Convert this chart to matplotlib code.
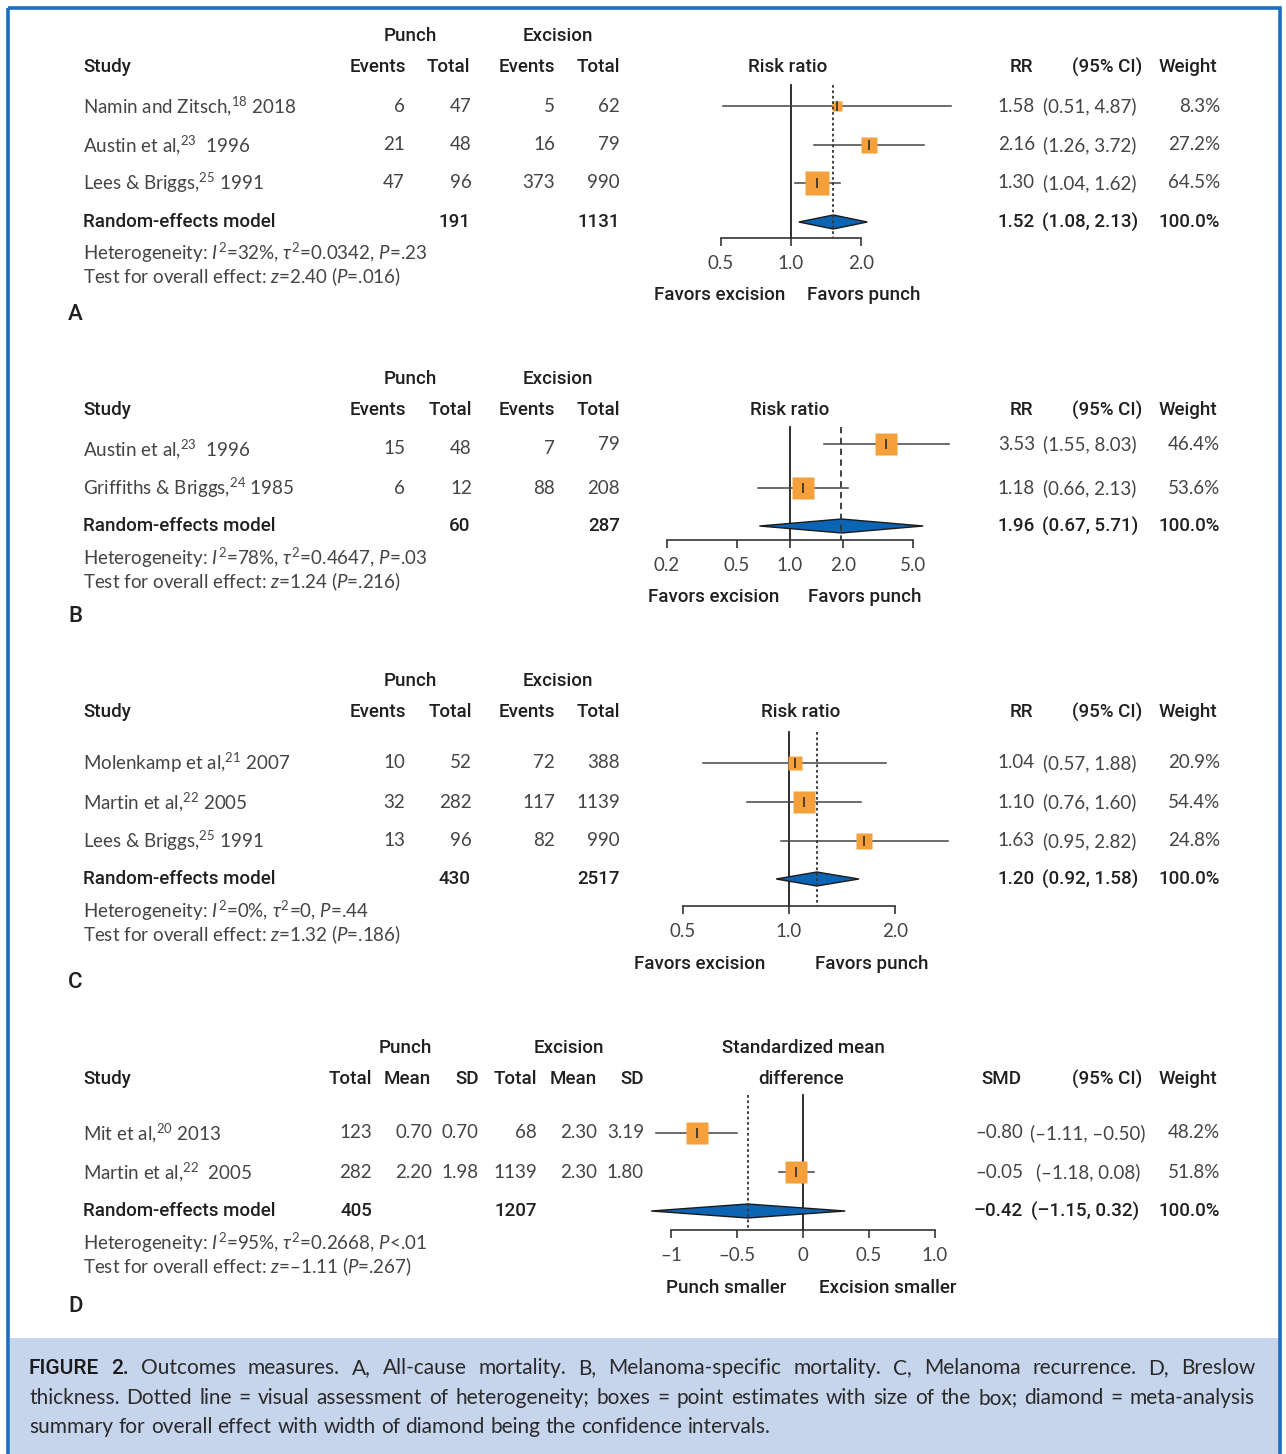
import matplotlib
matplotlib.use("Agg")
import matplotlib.pyplot as plt
from matplotlib.patches import Polygon, Rectangle
from matplotlib.ticker import NullLocator
import numpy as np

plt.rcParams['mathtext.fontset'] = 'custom'
plt.rcParams['mathtext.rm'] = 'Lato'
plt.rcParams['mathtext.it'] = 'Lato:italic'
plt.rcParams['mathtext.bf'] = 'Lato:bold'
plt.rcParams['mathtext.fallback'] = 'stixsans'

# ---------------- DATA ----------------
# Panel A: All-cause mortality
studies_A = ["Namin and Zitsch,$^{18}$ 2018", "Austin et al,$^{23}$  1996", "Lees & Briggs,$^{25}$ 1991"]
ev_punch_A = [6, 21, 47]
tot_punch_A = [47, 48, 96]
ev_exc_A = [5, 16, 373]
tot_exc_A = [62, 79, 990]
rr_A = [1.58, 2.16, 1.30]
lo_A = [0.51, 1.26, 1.04]
hi_A = [4.87, 3.72, 1.62]
weight_A = [8.3, 27.2, 64.5]
pooled_A = [1.52, 1.08, 2.13]
totals_A = [191, 1131]
het_A = r"Heterogeneity: $I^2$=32%, $\tau^2$=0.0342, $P$=.23"
test_A = r"Test for overall effect: $z$=2.40 ($P$=.016)"
ticks_A = [0.5, 1.0, 2.0]
ticklabels_A = ["0.5", "1.0", "2.0"]

# Panel B: Melanoma-specific mortality
studies_B = ["Austin et al,$^{23}$  1996", "Griffiths & Briggs,$^{24}$ 1985"]
ev_punch_B = [15, 6]
tot_punch_B = [48, 12]
ev_exc_B = [7, 88]
tot_exc_B = [79, 208]
rr_B = [3.53, 1.18]
lo_B = [1.55, 0.66]
hi_B = [8.03, 2.13]
weight_B = [46.4, 53.6]
pooled_B = [1.96, 0.67, 5.71]
totals_B = [60, 287]
het_B = r"Heterogeneity: $I^2$=78%, $\tau^2$=0.4647, $P$=.03"
test_B = r"Test for overall effect: $z$=1.24 ($P$=.216)"
ticks_B = [0.2, 0.5, 1.0, 2.0, 5.0]
ticklabels_B = ["0.2", "0.5", "1.0", "2.0", "5.0"]

# Panel C: Melanoma recurrence
studies_C = ["Molenkamp et al,$^{21}$ 2007", "Martin et al,$^{22}$ 2005", "Lees & Briggs,$^{25}$ 1991"]
ev_punch_C = [10, 32, 13]
tot_punch_C = [52, 282, 96]
ev_exc_C = [72, 117, 82]
tot_exc_C = [388, 1139, 990]
rr_C = [1.04, 1.10, 1.63]
lo_C = [0.57, 0.76, 0.95]
hi_C = [1.88, 1.60, 2.82]
weight_C = [20.9, 54.4, 24.8]
pooled_C = [1.20, 0.92, 1.58]
totals_C = [430, 2517]
het_C = r"Heterogeneity: $I^2$=0%, $\tau^2$=0, $P$=.44"
test_C = r"Test for overall effect: $z$=1.32 ($P$=.186)"
ticks_C = [0.5, 1.0, 2.0]
ticklabels_C = ["0.5", "1.0", "2.0"]

# Panel D: Breslow thickness
studies_D = ["Mit et al,$^{20}$ 2013", "Martin et al,$^{22}$  2005"]
tot_punch_D = [123, 282]
mean_punch_D = [0.70, 2.20]
sd_punch_D = [0.70, 1.98]
tot_exc_D = [68, 1139]
mean_exc_D = [2.30, 2.30]
sd_exc_D = [3.19, 1.80]
smd_D = [-0.80, -0.05]
lo_D = [-1.11, -0.18]
hi_D = [-0.50, 0.08]
ci_label_D = ["(\u20131.11, \u20130.50)", "(\u20131.18, 0.08)"]
weight_D = [48.2, 51.8]
pooled_D = [-0.42, -1.15, 0.32]
totals_D = [405, 1207]
het_D = r"Heterogeneity: $I^2$=95%, $\tau^2$=0.2668, $P$<.01"
test_D = "Test for overall effect: $z$=\u20131.11 ($P$=.267)"
ticks_D = [-1.0, -0.5, 0.0, 0.5, 1.0]
ticklabels_D = ["\u20131", "\u20130.5", "0", "0.5", "1.0"]

caption_lines = [
    "FIGURE 2. Outcomes measures. A, All-cause mortality. B, Melanoma-specific mortality. C, Melanoma recurrence. D, Breslow",
    "thickness. Dotted line = visual assessment of heterogeneity; boxes = point estimates with size of the box; diamond = meta-analysis",
    "summary for overall effect with width of diamond being the confidence intervals.",
]

# ---------------- STYLE ----------------
W, H = 1286, 1454
FS = 13.5
BODY = dict(family='Lato', fontsize=FS, color='#444444')
HEAD = dict(family='Roboto', fontweight='medium', fontsize=FS, color='#202020')
ORANGE = '#F6A03C'
BLUE = '#0B64B4'
BORDER = '#1B6EC2'

fig = plt.figure(figsize=(W / 100, H / 100), dpi=100)
ax0 = fig.add_axes([0, 0, 1, 1])
ax0.set_xlim(0, W)
ax0.set_ylim(H, 0)
ax0.axis('off')

# frame + caption box
ax0.add_patch(Rectangle((9.5, 1338), 1269, 130, fc='#C6D4EC', ec='none', zorder=0))
ax0.add_patch(Rectangle((7.5, 7.5), 1272, 1460, fc='none', ec=BORDER, lw=2.6, zorder=5))


def txt(x, y, s, ha='left', style=BODY, **kw):
    return ax0.text(x, y, s, ha=ha, va='center', **style, **kw)


def fmt(v, d=2):
    s = f"{v:.{d}f}"
    return s.replace('-', '\u2013')


def forest(px_l, px_r, y_top, y_axis, null_px, per, log, ticks, ticklabels,
           est, lo, hi, w, rows, pooled, ydia, dash):
    ax = fig.add_axes([px_l / W, 1 - y_axis / H, (px_r - px_l) / W, (y_axis - y_top) / H])
    if log:
        ax.set_xscale('log')
        ax.set_xlim(2 ** ((px_l - null_px) / per), 2 ** ((px_r - null_px) / per))
        null = 1.0
    else:
        ax.set_xlim((px_l - null_px) / per, (px_r - null_px) / per)
        null = 0.0
    ax.set_ylim(y_axis, y_top)
    ax.patch.set_alpha(0)
    for s in ['top', 'left', 'right']:
        ax.spines[s].set_visible(False)
    ax.spines['bottom'].set_bounds(ticks[0], ticks[-1])
    ax.spines['bottom'].set_linewidth(1.2)
    ax.spines['bottom'].set_color('#333333')
    ax.set_yticks([])
    ax.set_xticks(ticks)
    ax.set_xticklabels(ticklabels)
    ax.xaxis.set_minor_locator(NullLocator())
    ax.tick_params(axis='x', direction='out', length=6, width=1.2, pad=6,
                   labelsize=FS, color='#333333', labelcolor='#444444')
    for lb in ax.get_xticklabels():
        lb.set_family('Lato')
    ax.plot([null, null], [y_top, y_axis], color='#1e1e1e', lw=1.3, clip_on=False, zorder=2)
    for e, l, h, ww, y in zip(est, lo, hi, w, rows):
        ax.plot([l, h], [y, y], color='#444444', lw=1.1, clip_on=False, zorder=3)
        ax.plot([e], [y], marker='s', ms=2.9 * np.sqrt(ww) * 0.72 + 1, color=ORANGE,
                mec='none', clip_on=False, zorder=4)
        ax.plot([e], [y], marker='|', ms=7, color='#222222', mew=1.1, clip_on=False, zorder=5)
    pe, pl, ph = pooled
    hh = 7
    ax.add_patch(Polygon([[pl, ydia], [pe, ydia - hh], [ph, ydia], [pe, ydia + hh]],
                         closed=True, fc=BLUE, ec='#1a1a1a', lw=1.0, zorder=3, clip_on=False))
    ax.plot([pe, pe], [y_top, y_axis], color='#333333', lw=1.3, linestyle=dash,
            clip_on=False, zorder=6)
    return ax


def binary_panel(lay, studies, evp, totp, eve, tote, est, lo, hi, w, pooled, totals, het, test,
                 ticks, ticklabels):
    h1, h2 = lay['head']
    txt(410, h1, "Punch", 'center', HEAD)
    txt(558, h1, "Excision", 'center', HEAD)
    txt(83, h2, "Study", 'left', HEAD)
    txt(406, h2, "Events", 'right', HEAD)
    txt(lay['totx'], h2, "Total", 'right', HEAD)
    txt(555, h2, "Events", 'right', HEAD)
    txt(620, h2, "Total", 'right', HEAD)
    txt(lay['rrx'], h2, "Risk ratio", 'center', HEAD)
    txt(1021, h2, "RR", 'center', HEAD)
    txt(1107, h2, "(95% CI)", 'center', HEAD)
    txt(1188, h2, "Weight", 'center', HEAD)
    for i in range(len(studies)):
        yl = lay['rows_left'][i]
        yr = lay['rows'][i]
        txt(83, yl, studies[i])
        txt(405, yl, str(evp[i]), 'right')
        txt(472, yl, str(totp[i]), 'right')
        txt(555, yl, str(eve[i]), 'right')
        txt(620, yr, str(tote[i]), 'right')
        txt(1035, yr, fmt(est[i]), 'right')
        txt(1090, yr, f"({fmt(lo[i])}, {fmt(hi[i])})", 'center')
        txt(1220, yr, f"{w[i]:.1f}%", 'right')
    ym = lay['model']
    txt(83, ym, "Random-effects model", 'left', HEAD)
    txt(470, ym, str(totals[0]), 'right', HEAD)
    txt(620, ym, str(totals[1]), 'right', HEAD)
    txt(1035, ym, fmt(pooled[0]), 'right', HEAD)
    txt(1090, ym, f"({fmt(pooled[1])}, {fmt(pooled[2])})", 'center', HEAD)
    txt(1220, ym, "100.0%", 'right', HEAD)
    txt(83, lay['het'][0], het)
    txt(83, lay['het'][1], test)
    txt(68, lay['label'], lay['key'], 'left', dict(HEAD, fontsize=16))
    fx = lay['fav']
    txt(fx[0], fx[2], "Favors excision", 'center', HEAD)
    txt(fx[1], fx[2], "Favors punch", 'center', HEAD)
    forest(640, 985, lay['ftop'], lay['faxis'], lay['null'], lay['per'], True, ticks, ticklabels,
           est, lo, hi, w, lay['rows'], pooled, ym, lay['dash'])


layA = dict(key='A', head=(36, 67), totx=470, rrx=788, rows_left=[106, 145, 183], rows=[106, 145, 183],
            model=222, het=(253, 277), label=315, fav=(720, 864, 295), ftop=85, faxis=238,
            null=791, per=70, dash=(0, (1.5, 1.5)))
layB = dict(key='B', head=(379, 410), totx=472, rrx=790, rows_left=[449, 488], rows=[444, 488],
            model=526, het=(558, 582), label=617, fav=(714, 865, 597), ftop=427, faxis=540,
            null=790, per=53, dash=(0, (3.5, 2.5)))
layC = dict(key='C', head=(681, 712), totx=472, rrx=801, rows_left=[763, 802, 841], rows=[763, 802, 841],
            model=879, het=(911, 935), label=983, fav=(700, 872, 964), ftop=732, faxis=906,
            null=789, per=106, dash=(0, (1.5, 1.5)))

binary_panel(layA, studies_A, ev_punch_A, tot_punch_A, ev_exc_A, tot_exc_A, rr_A, lo_A, hi_A,
             weight_A, pooled_A, totals_A, het_A, test_A, ticks_A, ticklabels_A)
binary_panel(layB, studies_B, ev_punch_B, tot_punch_B, ev_exc_B, tot_exc_B, rr_B, lo_B, hi_B,
             weight_B, pooled_B, totals_B, het_B, test_B, ticks_B, ticklabels_B)
binary_panel(layC, studies_C, ev_punch_C, tot_punch_C, ev_exc_C, tot_exc_C, rr_C, lo_C, hi_C,
             weight_C, pooled_C, totals_C, het_C, test_C, ticks_C, ticklabels_C)

# ---- Panel D ----
h1, h2 = 1048, 1079
txt(405, h1, "Punch", 'center', HEAD)
txt(569, h1, "Excision", 'center', HEAD)
txt(803, h1, "Standardized mean", 'center', HEAD)
txt(801, h2, "difference", 'center', HEAD)
txt(83, h2, "Study", 'left', HEAD)
for x, s in [(372, "Total"), (431, "Mean"), (479, "SD"), (537, "Total"), (597, "Mean"), (644, "SD")]:
    txt(x, h2, s, 'right', HEAD)
txt(1001, h2, "SMD", 'center', HEAD)
txt(1107, h2, "(95% CI)", 'center', HEAD)
txt(1188, h2, "Weight", 'center', HEAD)
rows_D = [1133, 1172]
for i in range(len(studies_D)):
    y = rows_D[i]
    txt(83, y, studies_D[i])
    txt(372, y, str(tot_punch_D[i]), 'right')
    txt(432, y, f"{mean_punch_D[i]:.2f}", 'right')
    txt(479, y, f"{sd_punch_D[i]:.2f}", 'right')
    txt(537, y, str(tot_exc_D[i]), 'right')
    txt(597, y, f"{mean_exc_D[i]:.2f}", 'right')
    txt(644, y, f"{sd_exc_D[i]:.2f}", 'right')
    txt(1023, y, fmt(smd_D[i]), 'right')
    txt(1088, y, ci_label_D[i], 'center')
    txt(1220, y, f"{weight_D[i]:.1f}%", 'right')
ym = 1211
txt(83, ym, "Random-effects model", 'left', HEAD)
txt(372, ym, str(totals_D[0]), 'right', HEAD)
txt(537, ym, str(totals_D[1]), 'right', HEAD)
txt(1023, ym, fmt(pooled_D[0]), 'right', HEAD)
txt(1085, ym, f"({fmt(pooled_D[1])}, {fmt(pooled_D[2])})", 'center', HEAD)
txt(1220, ym, "100.0%", 'right', HEAD)
txt(83, 1243, het_D)
txt(83, 1267, test_D)
txt(68, 1307, "D", 'left', dict(HEAD, fontsize=16))
txt(726, 1288, "Punch smaller", 'center', HEAD)
txt(888, 1288, "Excision smaller", 'center', HEAD)
forest(640, 985, 1095, 1230, 803, 132, False, ticks_D, ticklabels_D,
       smd_D, lo_D, hi_D, weight_D, rows_D, pooled_D, ym, (0, (1.5, 1.5)))

# ---- Caption (justified) ----
CAP = dict(family='Lato', fontsize=15.0, color='#2a2a2a')
CAPB = dict(family='Roboto', fontweight='medium', fontsize=15.0, color='#1a1a1a')
renderer = fig.canvas.get_renderer()
cap_y = [1368, 1398, 1427]
for li, line in enumerate(caption_lines):
    words = line.split(' ')
    objs = []
    for wi, wd in enumerate(words):
        st = CAPB if (li == 0 and wi < 2) else CAP
        objs.append(ax0.text(0, cap_y[li], wd, ha='left', va='center', **st))
    widths = [o.get_window_extent(renderer).width for o in objs]
    x0, x1 = 29, 1255
    if li < len(caption_lines) - 1:
        gap = (x1 - x0 - sum(widths)) / (len(words) - 1)
    else:
        gap = 5.5
    x = x0
    for o, wdt in zip(objs, widths):
        o.set_x(x)
        x += wdt + gap

fig.savefig("out.png", dpi=100)
